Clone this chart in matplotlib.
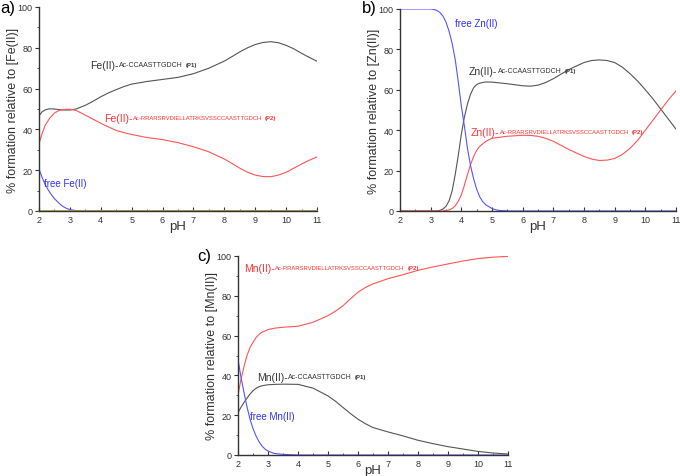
import numpy as np
import matplotlib.pyplot as plt

plt.rcParams['font.family'] = ['Liberation Sans', 'DejaVu Sans']

# ---- a) Fe(II) ----
ph_fe = [2, 2.1, 2.2, 2.35, 2.5, 2.65, 2.8, 3, 3.2, 3.5, 3.75, 4, 4.25, 4.5, 4.75, 5, 5.5, 6, 6.5, 7, 7.5,
         8, 8.25, 8.5, 8.75, 9, 9.25, 9.5, 9.75, 10, 10.25, 10.5, 10.75, 11]
fe_p1 = [46.7, 48.6, 49.6, 50.1, 50, 49.7, 49.5, 49.5, 50, 51.8, 53.8, 56, 57.9, 59.5, 61, 62.2, 63.5, 64.5, 65.5,
         67.3, 70, 73.5, 75.7, 78, 80, 81.6, 82.6, 83, 82.5, 81.2, 79.5, 77.3, 75.3, 73.4]
fe_p2 = [33, 38, 42, 45.6, 48, 49.3, 49.8, 49.9, 49.3, 47, 45, 43, 41.2, 39.5, 38.4, 37.5, 36, 35, 33.5,
         31.5, 29, 25.5, 23.3, 21, 19, 17.6, 16.9, 16.8, 17.6, 19, 21, 23, 24.9, 26.5]
ph_fe_free = [2, 2.1, 2.2, 2.3, 2.4, 2.5, 2.6, 2.7, 2.8, 2.9, 3, 3.2, 3.5, 4, 11]
fe_free = [20.5, 16.5, 13, 10.3, 8, 6.1, 4.5, 3.1, 2, 1.2, 0.7, 0.2, 0, 0, 0]

# ---- b) Zn(II) ----
ph_zn = [2, 3, 3.1, 3.2, 3.3, 3.4, 3.5, 3.6, 3.7, 3.8, 3.9, 4.0, 4.1, 4.2, 4.3, 4.4, 4.5, 4.6, 4.7, 4.8, 5.0,
         5.15, 5.3, 5.6, 6, 11]
zn_free = [100, 100, 99.8, 99.3, 98.3, 96.5, 93.5, 89, 83, 75, 64, 52, 42, 31, 22.5, 16, 10.8, 7, 4.6, 3, 1.2,
           0.5, 0.2, 0, 0, 0]
ph_zn_c = [2, 3.2, 3.3, 3.4, 3.5, 3.6, 3.7, 3.8, 3.9, 4.0, 4.1, 4.2, 4.3, 4.4, 4.5, 4.6, 4.8, 5, 5.5, 6, 6.25,
           6.5, 6.75, 7, 7.5, 8, 8.25, 8.5, 8.75, 9, 9.25, 9.5, 9.75, 10, 10.25, 10.5, 10.75, 11]
zn_p1 = [0, 0, 0.3, 1, 2.3, 5, 10, 18, 27.5, 38, 46.5, 53, 57.8, 61, 62.6, 63.3, 63.9, 63.8, 63, 62, 61.8,
         62.3, 63.6, 65.5, 70, 73.5, 74.5, 74.8, 74.5, 73.5, 71.2, 68, 64.3, 60, 55.5, 50.5, 45.5, 40.5]
zn_p2 = [0, 0, 0, 0, 0.2, 0.5, 1.2, 2.5, 4.8, 8, 12.8, 18, 23, 27, 30, 32, 34.5, 36, 37, 37.5, 37.4,
         37, 36, 34.5, 30.5, 27, 25.7, 25, 25.2, 26, 28, 31, 35, 40, 45, 50, 55, 59.5]

# ---- c) Mn(II) ----
ph_mn = [2, 2.1, 2.2, 2.3, 2.4, 2.5, 2.6, 2.7, 2.8, 3, 3.25, 3.5, 4, 4.5, 5, 5.25, 5.5, 5.75, 6, 6.25, 6.5,
         7, 7.5, 8, 8.5, 9, 9.5, 10, 10.5, 11]
mn_p2 = [30.3, 38, 44.5, 50, 54, 56.6, 59, 60.6, 61.7, 63, 63.8, 64.2, 64.7, 66.7, 70, 72.3, 75, 78.5, 81.8,
         84.2, 86, 88.6, 90.6, 92.8, 94.5, 96, 97.5, 98.7, 99.4, 99.8]
mn_p1 = [21.3, 24, 26.4, 28.6, 30.6, 32.3, 33.5, 34.3, 34.8, 35.3, 35.5, 35.6, 35.5, 33.6, 29.7, 27, 23.9,
         20.8, 18, 15.7, 13.8, 11.6, 9.6, 7.4, 5.7, 4.2, 3, 1.8, 1, 0.5]
ph_mn_free = [2, 2.1, 2.2, 2.3, 2.4, 2.5, 2.6, 2.7, 2.8, 2.9, 3, 3.2, 3.5, 4, 11]
mn_free = [48, 39, 31.4, 24.2, 18, 13.3, 9.6, 6.7, 4.5, 3, 2, 0.8, 0.3, 0, 0]

xticks = [2, 3, 4, 5, 6, 7, 8, 9, 10, 11]
yticks = [0, 20, 40, 60, 80, 100]

C_BLK = '#555555'
C_RED = '#ff5555'
C_BLU = '#5555ff'
AX_C = '#333333'

W, H = 680, 477
fig = plt.figure(figsize=(W / 100, H / 100), dpi=100)


def make_ax(x0, y0, x1, y1):
    ax = fig.add_axes([x0 / W, 1 - y1 / H, (x1 - x0) / W, (y1 - y0) / H])
    ax.set_xlim(2, 11)
    ax.set_ylim(0, 100)
    ax.set_xticks(xticks)
    ax.set_yticks(yticks)
    ax.set_xticks(np.arange(2.5, 11, 1), minor=True)
    ax.set_yticks(np.arange(10, 100, 20), minor=True)
    for s in ['top', 'right']:
        ax.spines[s].set_visible(False)
    for s in ['left', 'bottom']:
        ax.spines[s].set_color(AX_C)
        ax.spines[s].set_linewidth(1.0)
    ax.tick_params(axis='x', direction='in', length=3, width=0.8, pad=3, labelsize=6.5, colors=AX_C)
    ax.tick_params(axis='x', which='minor', direction='in', length=1.5, width=0.6, colors=AX_C)
    ax.tick_params(axis='y', direction='out', length=3, width=0.8, pad=1.5, labelsize=6.5, colors=AX_C)
    ax.tick_params(axis='y', which='minor', direction='out', length=1.5, width=0.6, colors=AX_C)
    ax.set_xlabel('pH', fontsize=9.5, color=AX_C, labelpad=-3)
    return ax


def label(ax, x, y, metal, pep, tag, color, pep_size=5):
    t = ax.text(x, y, metal + '-', fontsize=7.5, color=color, va='center', ha='left',
                transform=None)
    t2 = ax.annotate(pep, xy=(1, 0.5), xycoords=t, xytext=(0.5, 0), textcoords='offset points',
                     fontsize=pep_size, color=color, va='center', ha='left')
    ax.annotate(tag, xy=(1, 0.5), xycoords=t2, xytext=(2, 0), textcoords='offset points',
                fontsize=4.3, color=color, va='center', ha='left', fontweight='bold')


def px(x, y):
    return (x, H - y)


P1 = 'Ac-CCAASTTGDCH'
P2 = 'Ac-RRARSRVDIELLATRKSVSSCCAASTTGDCH'

# a)
ax = make_ax(39, 8, 317, 212)
ax.plot(ph_fe, fe_p1, color=C_BLK, lw=0.8)
ax.plot(ph_fe, fe_p2, color=C_RED, lw=0.8)
ax.plot(ph_fe_free, fe_free, color=C_BLU, lw=0.8)
ax.plot([2, 11], [0, 0], color='#b8a830', lw=1.2, clip_on=False)
ax.set_ylabel('% formation relative to [Fe(II)]', fontsize=9, color=AX_C, labelpad=-1)
label(ax, *px(90, 66), 'Fe(II)', P1, '(P1)', '#333333')
label(ax, *px(104, 119), 'Fe(II)', P2, '(P2)', '#ff3030', pep_size=4.2)
ax.text(*px(44, 184), 'free Fe(II)', fontsize=7, color='#3030ff', va='center', transform=None)
fig.text(0, 1 - 9 / H, 'a)', fontsize=12, va='center', ha='left')

# b)
ax = make_ax(400, 10, 676, 212)
ax.plot(ph_zn_c, zn_p1, color=C_BLK, lw=0.8)
ax.plot(ph_zn_c, zn_p2, color=C_RED, lw=0.8)
ax.plot(ph_zn, zn_free, color=C_BLU, lw=0.8)
ax.set_ylabel('% formation relative to [Zn(II)]', fontsize=9, color=AX_C, labelpad=-1)
label(ax, *px(469, 72), 'Zn(II)', P1, '(P1)', '#333333')
label(ax, *px(471, 133), 'Zn(II)', P2, '(P2)', '#ff3030', pep_size=4.2)
ax.text(*px(455, 24), 'free Zn(II)', fontsize=7, color='#3030ff', va='center', transform=None)
fig.text(362 / W, 1 - 9 / H, 'b)', fontsize=12, va='center', ha='left')

# c)
ax = make_ax(238, 257, 508, 456)
ax.plot(ph_mn, mn_p2, color=C_RED, lw=0.8)
ax.plot(ph_mn, mn_p1, color=C_BLK, lw=0.8)
ax.plot(ph_mn_free, mn_free, color=C_BLU, lw=0.8)
ax.set_ylabel('% formation relative to [Mn(II)]', fontsize=9, color=AX_C, labelpad=-1)
label(ax, *px(244, 269), 'Mn(II)', P2, '(P2)', '#ff3030', pep_size=4.2)
label(ax, *px(257, 378), 'Mn(II)', P1, '(P1)', '#333333')
ax.text(*px(250, 417), 'free Mn(II)', fontsize=7, color='#3030ff', va='center', transform=None)
fig.text(197 / W, 1 - 256 / H, 'c)', fontsize=12, va='center', ha='left')

fig.savefig('out.png', dpi=100)
